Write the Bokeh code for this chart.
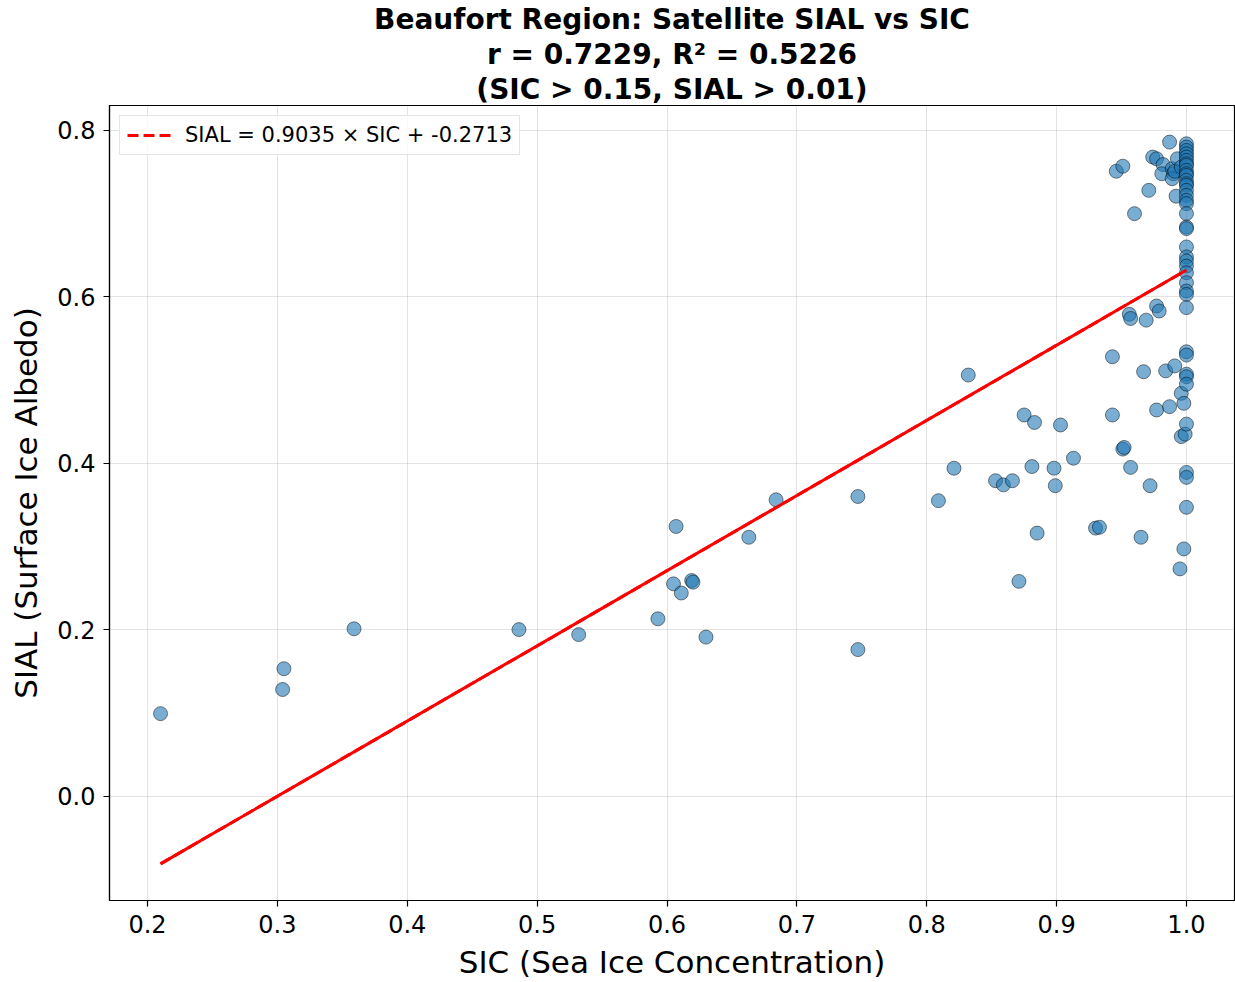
from bokeh.plotting import figure
from bokeh.models import Range1d, FixedTicker, Legend, LegendItem, Title, NumeralTickFormatter
from bokeh.embed import file_html
from bokeh.resources import INLINE

# ---- data ----
sic = [0.210, 0.304, 0.305, 0.359, 0.486, 0.532, 0.593, 0.607, 0.605, 0.611,
       0.619, 0.620, 0.630, 0.663, 0.684, 0.747, 0.747, 0.809, 0.821, 0.832,
       0.853, 0.859, 0.866, 0.871, 0.875, 0.881, 0.883, 0.885, 0.898, 0.899,
       0.903, 0.913, 0.930, 0.933, 0.943, 0.943, 0.951, 0.952, 0.956, 0.957,
       0.957, 0.965, 0.967, 0.969, 0.972, 0.977, 0.979, 0.977, 0.984, 0.987,
       0.991, 0.995, 0.996, 0.996, 0.998, 0.998, 0.999,
       0.946, 0.951, 0.960, 0.971, 0.974, 0.977, 0.982, 0.981, 0.987, 0.989,
       0.990, 0.989, 0.991, 0.993, 0.996, 0.992,
       1.0, 1.0, 1.0, 1.0, 1.0, 1.0, 1.0, 1.0, 1.0, 1.0,
       1.0, 1.0, 1.0, 1.0, 1.0, 1.0, 1.0, 1.0, 1.0, 1.0,
       1.0, 1.0, 1.0, 1.0, 1.0, 1.0, 1.0, 1.0, 1.0, 1.0,
       1.0, 1.0, 1.0, 1.0, 1.0, 1.0, 1.0, 1.0, 1.0]
sial = [0.099, 0.128, 0.153, 0.201, 0.200, 0.194, 0.213, 0.324, 0.255, 0.244,
        0.259, 0.257, 0.191, 0.311, 0.356, 0.360, 0.176, 0.355, 0.394, 0.506,
        0.379, 0.374, 0.379, 0.258, 0.458, 0.396, 0.449, 0.316, 0.394, 0.373,
        0.446, 0.406, 0.322, 0.323, 0.528, 0.458, 0.417, 0.419, 0.579, 0.574,
        0.395, 0.311, 0.510, 0.572, 0.373, 0.589, 0.583, 0.464, 0.511, 0.468,
        0.517, 0.273, 0.484, 0.432, 0.472, 0.297, 0.435,
        0.751, 0.757, 0.700, 0.728, 0.768, 0.766, 0.759, 0.748, 0.786, 0.754,
        0.748, 0.742, 0.751, 0.766, 0.756, 0.721,
        0.784, 0.780, 0.776, 0.772, 0.768, 0.764, 0.760, 0.758, 0.752, 0.748,
        0.746, 0.740, 0.736, 0.734, 0.728, 0.722, 0.716, 0.712, 0.700, 0.684,
        0.682, 0.660, 0.648, 0.643, 0.637, 0.629, 0.617, 0.607, 0.603, 0.587,
        0.534, 0.530, 0.507, 0.504, 0.495, 0.447, 0.389, 0.383, 0.347]
slope = 0.9035
intercept = -0.2713
x_ticks = [0.2, 0.3, 0.4, 0.5, 0.6, 0.7, 0.8, 0.9, 1.0]
y_ticks = [0.0, 0.2, 0.4, 0.6, 0.8]
title_lines = ["Beaufort Region: Satellite SIAL vs SIC",
               "r = 0.7229, R\u00b2 = 0.5226",
               "(SIC > 0.15, SIAL > 0.01)"]
legend_text = "SIAL = 0.9035 \u00d7 SIC + -0.2713"

FONT = "DejaVu Sans"

p = figure(width=1235, height=982, output_backend="svg", toolbar_location=None,
           title=None,
           x_range=Range1d(0.1707, 1.037), y_range=Range1d(-0.1256, 0.830),
           min_border_left=109, min_border_right=1, min_border_bottom=78, min_border_top=5)

# titles: added bottom line first (later ones stack above)
for line in reversed(title_lines):
    t = Title(text=line, align="center", text_font=FONT, text_font_size="28px",
              text_font_style="bold", text_color="black",
              standoff=0, offset=0)
    p.add_layout(t, "above")

# dashed line (legend entry) hidden under the solid regression line
xl = [min(sic), max(sic)]
yl = [slope * v + intercept for v in xl]
dummy = p.line(xl, yl, line_color="red", line_width=3, line_dash="11 5")

p.scatter(sic, sial, size=14, fill_color="#1f77b4", fill_alpha=0.6,
          line_color="black", line_alpha=0.6, line_width=0.8)

p.line(xl, yl, line_color="red", line_width=3)

legend = Legend(items=[LegendItem(label=legend_text, renderers=[dummy])],
                location="top_left", label_text_font=FONT, label_text_font_size="21px",
                label_text_color="black",
                border_line_color="#cccccc", border_line_width=1.5, background_fill_alpha=0.8,
                glyph_width=44, padding=7, margin=10, label_standoff=14, spacing=0)
p.add_layout(legend)

for ax in (p.xaxis, p.yaxis):
    ax.major_label_text_font = FONT
    ax.major_label_text_font_size = "24px"
    ax.major_label_text_color = "black"
    ax.axis_label_text_font = FONT
    ax.axis_label_text_font_size = "31px"
    ax.axis_label_text_font_style = "normal"
    ax.axis_label_text_color = "black"
    ax.axis_line_color = "black"
    ax.axis_line_width = 1.2
    ax.major_tick_in = 0
    ax.major_tick_out = 6
    ax.major_tick_line_width = 1.2
    ax.minor_tick_line_color = None
    ax.formatter = NumeralTickFormatter(format="0.0")

p.xaxis.ticker = FixedTicker(ticks=x_ticks)
p.yaxis.ticker = FixedTicker(ticks=y_ticks)
p.xaxis.axis_label = "SIC (Sea Ice Concentration)"
p.yaxis.axis_label = "SIAL (Surface Ice Albedo)"
p.xaxis.major_label_standoff = 8
p.yaxis.major_label_standoff = 8
p.xaxis.axis_label_standoff = 8
p.yaxis.axis_label_standoff = 10

p.grid.grid_line_color = "#b0b0b0"
p.grid.grid_line_alpha = 0.35
p.outline_line_color = "black"
p.outline_line_alpha = 1.0
p.outline_line_width = 1.2

open("out.html", "w").write(file_html(p, INLINE))
